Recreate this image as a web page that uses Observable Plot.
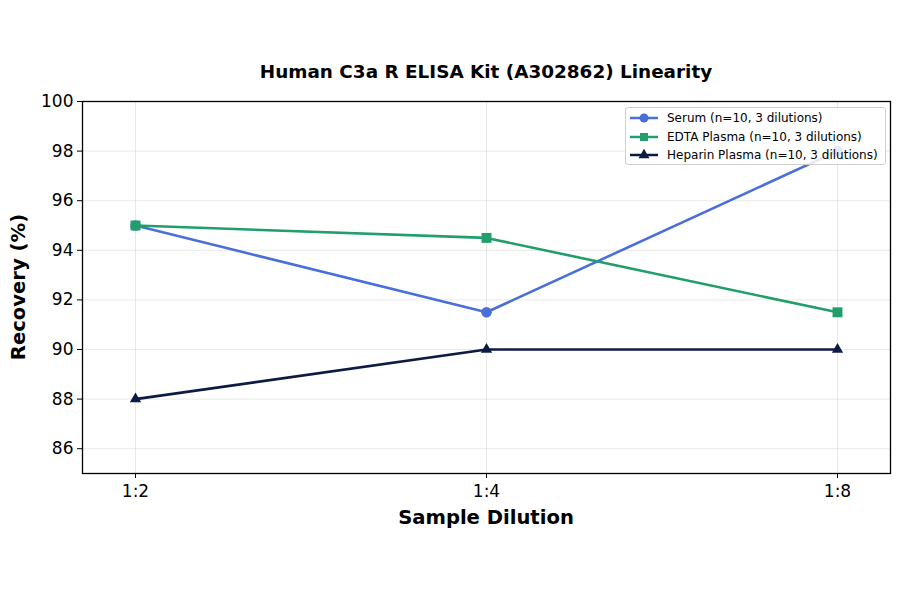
<!DOCTYPE html>
<html>
<head>
<meta charset="utf-8">
<script src="https://cdn.jsdelivr.net/npm/d3@7"></script>
<script src="https://cdn.jsdelivr.net/npm/@observablehq/plot@0.6"></script>
<style>
  html, body { margin: 0; padding: 0; background: #fff; }
  #wrap { position: relative; width: 900px; height: 594px; font-family: "DejaVu Sans", sans-serif; color: #000; }
  .title { position: absolute; top: 61px; left: 82px; width: 808px; text-align: center; font-weight: bold; font-size: 18.4px; }
  .xlabel { position: absolute; top: 506px; left: 82px; width: 808px; text-align: center; font-weight: bold; font-size: 19.6px; }
  .ylabel { position: absolute; left: 18px; top: 287px; transform: translate(-50%, -50%) rotate(-90deg); font-weight: bold; font-size: 19.6px; white-space: nowrap; }
  .legend { position: absolute; left: 625px; top: 107px; width: 259px; height: 56px; border: 1px solid #d0d0d0; border-radius: 3px; background: rgba(255,255,255,0.85); font-size: 12px; }
  .legend .row { position: absolute; left: 3px; height: 18px; display: flex; align-items: center; white-space: nowrap; }
  .legend svg { margin-right: 8px; }
</style>
</head>
<body>
<div id="wrap">
  <div id="chart"></div>
  <div class="title">Human C3a R ELISA Kit (A302862) Linearity</div>
  <div class="xlabel">Sample Dilution</div>
  <div class="ylabel">Recovery (%)</div>
  <div class="legend" id="legend"></div>
</div>
<script>
const dilutions = ["1:2", "1:4", "1:8"];
const serum = [95, 91.5, 98];
const edta = [95, 94.5, 91.5];
const heparin = [88, 90, 90];
const seriesNames = ["Serum (n=10, 3 dilutions)", "EDTA Plasma (n=10, 3 dilutions)", "Heparin Plasma (n=10, 3 dilutions)"];
const seriesColors = ["#4a6fdb", "#219e6c", "#0c1a44"];
const seriesSymbols = ["circle", "square", "triangle"];
const yTicks = [86, 88, 90, 92, 94, 96, 98, 100];

const seriesValues = [serum, edta, heparin];
const data = [];
seriesValues.forEach((vals, i) => {
  vals.forEach((v, j) => data.push({series: seriesNames[i], dilution: dilutions[j], value: v, idx: i}));
});

const markerR = [5.3, 5.6, 4.2];
const marks = [
  Plot.gridX(dilutions, {stroke: "#b0b0b0", strokeOpacity: 0.35, strokeWidth: 0.8}),
  Plot.gridY(yTicks, {stroke: "#b0b0b0", strokeOpacity: 0.35, strokeWidth: 0.8}),
  Plot.axisY({ticks: yTicks, tickSize: 5, tickPadding: 4, label: null, fontSize: 17}),
  Plot.axisX({tickSize: 5, tickPadding: 6, label: null, fontSize: 17})
];
seriesNames.forEach((name, i) => {
  const d = data.filter(r => r.idx === i);
  marks.push(Plot.line(d, {x: "dilution", y: "value", stroke: seriesColors[i], strokeWidth: 2.6}));
  marks.push(Plot.dot(d, {x: "dilution", y: "value", fill: seriesColors[i], symbol: seriesSymbols[i], r: markerR[i]}));
});
marks.push(Plot.frame({stroke: "#000", strokeWidth: 1.3}));

const chart = Plot.plot({
  width: 900,
  height: 594,
  marginLeft: 82,
  marginRight: 10,
  marginTop: 101,
  marginBottom: 121,
  style: {fontFamily: "DejaVu Sans, sans-serif", fontSize: "17px", color: "#000", background: "#fff"},
  x: {type: "point", domain: dilutions, padding: 0.148},
  y: {domain: [85, 100]},
  marks
});
document.getElementById("chart").appendChild(chart);

// legend
const legend = d3.select("#legend");
const symbolGen = {circle: d3.symbolCircle, square: d3.symbolSquare, triangle: d3.symbolTriangle};
const legendSize = [64, 64, 52];
seriesNames.forEach((name, i) => {
  const row = legend.append("div").attr("class", "row").style("top", (i * 18.5 + 1) + "px");
  const svg = row.append("svg").attr("width", 30).attr("height", 14);
  svg.append("line").attr("x1", 1).attr("x2", 29).attr("y1", 7).attr("y2", 7)
    .attr("stroke", seriesColors[i]).attr("stroke-width", 2.5);
  svg.append("path").attr("transform", "translate(15,7)")
    .attr("d", d3.symbol(symbolGen[seriesSymbols[i]], legendSize[i])())
    .attr("fill", seriesColors[i]);
  row.append("span").text(name);
});
</script>
</body>
</html>
